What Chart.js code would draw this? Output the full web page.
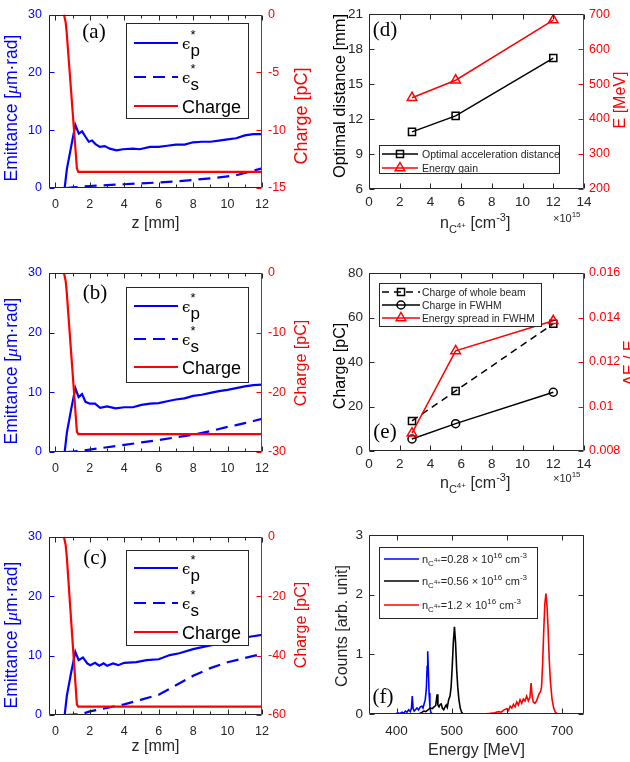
<!DOCTYPE html>
<html>
<head>
<meta charset="utf-8">
<title>Emittance, charge and spectra</title>
<script src="https://cdn.jsdelivr.net/npm/chart.js@4.4.1/dist/chart.umd.min.js"></script>
<style>
  html, body { margin: 0; padding: 0; background: #fff; }
  #fig { position: relative; width: 630px; height: 762px; overflow: hidden; }
  #fig canvas { position: absolute; }
</style>
</head>
<body>
<div id="fig">
  <canvas id="pa" width="315" height="250" style="left:0;top:0;width:315px;height:250px"></canvas>
  <canvas id="pb" width="315" height="250" style="left:0;top:250px;width:315px;height:250px"></canvas>
  <canvas id="pc" width="315" height="262" style="left:0;top:500px;width:315px;height:262px"></canvas>
  <canvas id="pd" width="315" height="250" style="left:315px;top:0;width:315px;height:250px"></canvas>
  <canvas id="pe" width="315" height="250" style="left:315px;top:250px;width:315px;height:250px"></canvas>
  <canvas id="pf" width="315" height="262" style="left:315px;top:500px;width:315px;height:262px"></canvas>
</div>
<script>
const FONT = '"Liberation Sans", Arial, Helvetica, sans-serif';
const SERIF = '"Liberation Serif", "Times New Roman", serif';
const GREEK = '"DejaVu Serif", serif';
const GRAY = '#262626', BLUE = '#0000ff', RED = '#ff0000';

// ---------- (a)-(c): emittance [um rad] and charge [pC] vs z [mm] ----------
const zTicks = [0, 2, 4, 6, 8, 10, 12];
const emitTicks = [0, 10, 20, 30];

const zEpA = [0.54, 0.67, 0.9, 1.16, 1.36, 1.55, 1.74, 1.94, 2.13, 2.33, 2.58, 2.87, 3.16, 3.55, 3.93, 4.5, 4.9, 5.5, 6.0, 6.5, 7.0, 7.5, 8.0, 8.5, 9.0, 9.5, 10.0, 10.5, 11.0, 11.5, 12.0];
const epA  = [0, 3.3, 6.9, 10.9, 9.4, 9.8, 8.9, 8.0, 8.2, 7.6, 7.1, 7.25, 6.8, 6.5, 6.7, 6.8, 6.7, 7.1, 7.1, 7.3, 7.5, 7.5, 7.9, 8.0, 8.0, 8.2, 8.4, 8.6, 9.1, 9.3, 9.3];
const zEpB = [0.54, 0.67, 0.9, 1.16, 1.35, 1.55, 1.75, 2.0, 2.3, 2.6, 3.0, 3.5, 4.0, 4.5, 5.0, 5.5, 6.0, 6.5, 7.0, 7.5, 8.0, 8.5, 9.0, 9.5, 10.0, 10.5, 11.0, 11.5, 12.0];
const epB  = [0, 3.3, 6.9, 10.7, 9.2, 9.7, 8.4, 8.1, 8.1, 7.4, 7.65, 7.3, 7.5, 7.5, 7.9, 8.1, 8.2, 8.5, 8.8, 9.0, 9.4, 9.6, 9.9, 10.2, 10.4, 10.7, 11.0, 11.2, 11.3];
const zEpC = [0.54, 0.67, 0.9, 1.16, 1.35, 1.6, 1.85, 2.03, 2.3, 2.55, 2.8, 3.0, 3.35, 3.65, 4.0, 4.7, 5.3, 6.0, 6.65, 7.2, 8.0, 8.8, 9.55, 10.3, 11.1, 12.0];
const epC  = [0, 3.3, 6.9, 10.65, 9.25, 9.7, 8.7, 8.4, 8.8, 8.3, 8.7, 8.3, 8.7, 8.4, 8.8, 8.9, 9.25, 9.4, 10.1, 10.4, 11.1, 11.6, 12.05, 12.6, 13.1, 13.5];

const zEsAB = [0.6, 1, 2, 3, 4, 5, 6, 7, 8, 9, 10, 10.5, 11, 11.5, 12];
const esA   = [0, 0.1, 0.35, 0.5, 0.65, 0.8, 0.95, 1.15, 1.4, 1.65, 2.0, 2.2, 2.6, 3.0, 3.4];
const esB   = [0, 0.05, 0.4, 0.8, 1.2, 1.6, 2.0, 2.45, 2.9, 3.5, 4.2, 4.5, 4.85, 5.2, 5.55];
const zEsC  = [0.6, 1, 1.5, 2, 3, 4, 5, 6, 7, 8, 9, 10, 11, 12];
const esC   = [0, 0.05, 0.15, 0.6, 1.2, 1.8, 2.6, 3.4, 5.0, 6.6, 7.9, 8.9, 9.6, 10.3];

const zQ = [0.5, 0.6, 0.66, 1.25, 1.33, 12];
const qA = [0, -0.7, -1.6, -13.3, -13.6, -13.6];
const qB = [0, -1.4, -3.2, -26.6, -27.0, -27.0];
const qC = [0, -2.8, -6.4, -56.5, -57.2, -57.2];
const qTicksA = [-15, -10, -5, 0];
const qTicksB = [-30, -20, -10, 0];
const qTicksC = [-60, -40, -20, 0];

// ---------- (d),(e): vs C4+ density (x 10^15 cm^-3) ----------
const dens = [2.8, 5.64, 12];
const optDist = [10.9, 12.27, 17.23];     // mm
const eGain = [461, 511, 683];            // MeV
const qWhole = [13.5, 27.0, 57.2];        // pC
const qFwhm = [5.4, 12.3, 26.4];          // pC
const eSpread = [0.0088, 0.0125, 0.01385];
const densTicks = [0, 2, 4, 6, 8, 10, 12, 14];
const distTicks = [6, 9, 12, 15, 18, 21];
const eTicks = [200, 300, 400, 500, 600, 700];
const chargeTicks = [0, 20, 40, 60, 80];
const spreadTicks = [0.008, 0.01, 0.012, 0.014, 0.016];

// ---------- (f): energy spectra ----------
const eBlue = [358, 398, 402, 406, 410, 413, 416, 419, 422, 425, 427, 428.5, 430, 432, 435, 437, 440, 443, 446, 448, 450, 452, 454, 455.5, 456.5, 457.5, 459, 460.5, 462, 465, 712];
const cBlue = [0, 0, 0.02, 0.01, 0.03, 0.01, 0.05, 0.03, 0.07, 0.04, 0.1, 0.3, 0.09, 0.05, 0.08, 0.1, 0.07, 0.12, 0.13, 0.1, 0.17, 0.24, 0.42, 0.8, 1.05, 0.78, 0.35, 0.12, 0.03, 0, 0];
const eBlack = [358, 440, 445, 449, 453, 457, 461, 465, 468, 471, 473.5, 475, 477, 479, 481, 483, 485.5, 488, 490, 492, 494.5, 497, 499, 501, 503, 505, 507, 509, 511, 513, 515.5, 518, 521, 712];
const cBlack = [0, 0, 0.02, 0.05, 0.04, 0.07, 0.1, 0.09, 0.12, 0.14, 0.33, 0.15, 0.12, 0.16, 0.17, 0.1, 0.07, 0.12, 0.15, 0.11, 0.24, 0.3, 0.46, 0.8, 1.2, 1.46, 1.2, 0.75, 0.45, 0.25, 0.1, 0.03, 0, 0];
const eRed = [358, 560, 570, 578, 585, 590, 595, 600, 603, 606, 609, 612, 615, 618, 621, 624, 627, 630, 633, 636, 639, 642, 644, 646, 648, 651, 654, 657, 659, 661, 663, 665, 667, 669, 671, 673, 675, 677, 679, 682, 685, 688, 692, 712];
const cRed = [0, 0, 0.01, 0.02, 0.04, 0.03, 0.07, 0.09, 0.06, 0.13, 0.1, 0.16, 0.12, 0.2, 0.15, 0.24, 0.18, 0.25, 0.22, 0.3, 0.22, 0.28, 0.52, 0.3, 0.2, 0.18, 0.22, 0.3, 0.35, 0.37, 0.45, 0.85, 1.4, 1.85, 2.02, 1.8, 1.4, 0.9, 0.55, 0.25, 0.1, 0.03, 0, 0];
const energyTicks = [400, 500, 600, 700];
const countTicks = [0, 1, 2, 3];

// ---------- helpers ----------
const pts = (xs, ys) => xs.map((x, i) => ({ x: x, y: ys[i] }));
const f = (size, fam, style) => (style ? style + ' ' : '') + size + 'px ' + (fam || FONT);

function axis(pos, min, max, ticks, color, size, pad, fs, extra) {
  return Object.assign({
    type: 'linear', position: pos, min: min, max: max,
    afterBuildTicks: s => { s.ticks = ticks.map(v => ({ value: v })); },
    afterFit: s => { if (pos === 'bottom') s.height = size; else s.width = size; },
    grid: { display: false, drawTicks: false },
    border: { display: false },
    ticks: { color: color, font: { family: FONT, size: fs }, padding: pad, maxRotation: 0, autoSkip: false }
  }, extra || {});
}

// text made of pieces: [text, font, dy, noAdvance]
function rich(ctx, x, y, parts, color, align, rot, base) {
  ctx.save();
  ctx.translate(x, y);
  if (rot) ctx.rotate(-Math.PI / 2);
  ctx.fillStyle = color;
  ctx.textAlign = 'left';
  ctx.textBaseline = base || 'alphabetic';
  let w = 0;
  parts.forEach(p => { ctx.font = p[1]; if (!p[3]) w += ctx.measureText(p[0]).width; });
  let cx = align === 'center' ? -w / 2 : 0;
  parts.forEach(p => { ctx.font = p[1]; ctx.fillText(p[0], cx, p[2] || 0); if (!p[3]) cx += ctx.measureText(p[0]).width; });
  ctx.restore();
}

function marker(ctx, style, r, x, y) {
  ctx.beginPath();
  if (style === 'rect') { const s = r * Math.SQRT1_2; ctx.rect(x - s, y - s, 2 * s, 2 * s); }
  else if (style === 'circle') ctx.arc(x, y, r, 0, 2 * Math.PI);
  else { ctx.moveTo(x, y - r); ctx.lineTo(x + r * 0.866, y + r * 0.5); ctx.lineTo(x - r * 0.866, y + r * 0.5); ctx.closePath(); }
  ctx.stroke();
}

const DECO = {};
const deco = {
  id: 'deco',
  afterDraw(chart) {
    const o = DECO[chart.canvas.id];
    const ctx = chart.ctx, a = chart.chartArea;
    const L = Math.round(a.left) + 0.5, R = Math.round(a.right) - 0.5;
    const T = Math.round(a.top) + 0.5, B = Math.round(a.bottom) - 0.5;
    const seg = (color, list) => {
      ctx.strokeStyle = color; ctx.beginPath();
      list.forEach(s => { ctx.moveTo(s[0], s[1]); ctx.lineTo(s[2], s[3]); });
      ctx.stroke();
    };
    ctx.save();
    ctx.lineWidth = 1;
    // inward ticks
    const xs = chart.scales.x, xv = xs.ticks.map(t => t.value), xl = [];
    xv.forEach(v => { const p = Math.round(xs.getPixelForValue(v)) + 0.5; xl.push([p, B, p, B - 5], [p, T, p, T + 5]); });
    if (o.xMinor) for (let i = 0; i + 1 < xv.length; i++) {
      const p = Math.round(xs.getPixelForValue((xv[i] + xv[i + 1]) / 2)) + 0.5;
      xl.push([p, B, p, B - 3], [p, T, p, T + 3]);
    }
    seg(GRAY, xl);
    const ys = chart.scales.y, y2 = chart.scales.y2, yl = [], y2l = [];
    ys.ticks.forEach(t => {
      const p = Math.round(ys.getPixelForValue(t.value)) + 0.5;
      yl.push([L, p, L + 5, p]);
      if (!y2) yl.push([R, p, R - 5, p]);
    });
    seg(o.lc, yl);
    if (y2) {
      y2.ticks.forEach(t => { const p = Math.round(y2.getPixelForValue(t.value)) + 0.5; y2l.push([R, p, R - 5, p]); });
      seg(o.rc, y2l);
    }
    // frame
    seg(GRAY, [[L, T, R, T], [L, B, R, B]]);
    seg(o.lc, [[L, T, L, B]]);
    seg(y2 ? o.rc : GRAY, [[R, T, R, B]]);
    // legend
    if (o.legend) {
      const g = o.legend, bx = g.box;
      ctx.fillStyle = '#fff';
      ctx.fillRect(bx[0], bx[1], bx[2], bx[3]);
      ctx.strokeStyle = GRAY; ctx.lineWidth = 1;
      ctx.strokeRect(bx[0] + 0.5, bx[1] + 0.5, bx[2], bx[3]);
      g.items.forEach(it => {
        ctx.strokeStyle = it.color; ctx.lineWidth = it.lw;
        ctx.setLineDash(it.dash || []);
        ctx.beginPath(); ctx.moveTo(g.x0, it.y); ctx.lineTo(g.x1, it.y); ctx.stroke();
        ctx.setLineDash([]);
        if (it.marker) { ctx.lineWidth = 1.5; marker(ctx, it.marker, it.r, (g.x0 + g.x1) / 2, it.y); }
        rich(ctx, g.tx, it.y, it.parts, g.tc || GRAY, 'left', false);
      });
    }
    // panel tag
    ctx.fillStyle = '#000';
    ctx.font = f(21, SERIF);
    ctx.textAlign = 'center'; ctx.textBaseline = 'middle';
    ctx.fillText(o.tag[0], o.tag[1], o.tag[2]);
    (o.texts || []).forEach(t => rich(ctx, t.x, t.y, t.parts, t.color, t.align, t.rot, t.base));
    ctx.restore();
  }
};

const common = {
  animation: false, responsive: false, events: [],
  elements: { point: { radius: 0 }, line: { tension: 0 } },
  plugins: { legend: { display: false }, tooltip: { enabled: false } }
};

// ---------- emittance panels ----------
function emitLegend(top, l1, l2, l3) {
  const eps = sub => [['ϵ', f(15, GREEK), 5.5], ['*', f(13), -4, true], [sub, f(17), 13.4]];
  return {
    box: [126, top, 122, 95], x0: 134, x1: 178, tx: 182, tc: '#000',
    items: [
      { y: l1, color: BLUE, lw: 2.2, parts: eps('p') },
      { y: l2, color: BLUE, lw: 2.2, dash: [12, 7], parts: eps('s') },
      { y: l3, color: RED, lw: 2.2, parts: [['Charge', f(18), 6.5]] }
    ]
  };
}
const emitTitle = (x, y) => ({ x: x, y: y, rot: true, align: 'center', base: 'middle', color: BLUE,
  parts: [['Emittance [', f(17.5)], ['μ', f(17.5, SERIF, 'italic')], ['m·rad]', f(17.5)]] });
const chargeTitle = (x, y, size) => ({ x: x, y: y, rot: true, align: 'center', base: 'middle', color: RED,
  parts: [['Charge [pC]', f(size)]] });

function emitPanel(id, p) {
  DECO[id] = {
    lc: BLUE, rc: RED, xMinor: true, tag: p.tag, legend: p.legend,
    texts: [emitTitle(12, p.lt), chargeTitle(302, p.rt, p.rs)]
  };
  return new Chart(document.getElementById(id), {
    type: 'line',
    data: { datasets: [
      { data: pts(zQ, p.q), borderColor: RED, borderWidth: 2.2, yAxisID: 'y2' },
      { data: pts(p.zp, p.ep), borderColor: BLUE, borderWidth: 2.2, yAxisID: 'y' },
      { data: pts(p.zs, p.es), borderColor: BLUE, borderWidth: 2.2, borderDash: [12, 7], yAxisID: 'y' }
    ]},
    options: Object.assign({}, common, {
      layout: { padding: { top: p.top, bottom: p.padB, left: 0, right: 0 } },
      scales: {
        x: axis('bottom', -0.37, 12, zTicks, GRAY, p.xh, 9, 12.5, {
          title: { display: p.xTitle, text: 'z [mm]', color: GRAY, font: { family: FONT, size: 16 }, padding: { top: 0, bottom: 2 } }
        }),
        y: axis('left', 0, 30, emitTicks, BLUE, 49, 7, 12.5),
        y2: axis('right', p.qmin, 0, p.qticks, RED, 53, 6, 12.5)
      }
    }),
    plugins: [deco]
  });
}

emitPanel('pa', { zp: zEpA, ep: epA, zs: zEsAB, es: esA, q: qA, qmin: -15, qticks: qTicksA,
  top: 10, padB: 15, xh: 47, xTitle: true, tag: ['(a)', 94, 32], lt: 108, rt: 116, rs: 18,
  legend: emitLegend(23, 43, 77, 106) });
emitPanel('pb', { zp: zEpB, ep: epB, zs: zEsAB, es: esB, q: qB, qmin: -30, qticks: qTicksB,
  top: 23, padB: 0, xh: 48, xTitle: false, tag: ['(b)', 95, 43], lt: 121, rt: 113, rs: 16,
  legend: emitLegend(37, 56, 89, 117) });
emitPanel('pc', { zp: zEpC, ep: epC, zs: zEsC, es: esC, q: qC, qmin: -60, qticks: qTicksC,
  top: 37, padB: 4, xh: 43, xTitle: true, tag: ['(c)', 95, 58], lt: 135, rt: 125, rs: 16,
  legend: emitLegend(50, 68, 103, 132) });

// ---------- right column ----------
const densTitle = y => ({ x: 125, y: y, color: GRAY, align: 'left',
  parts: [['n', f(16)], ['C', f(11), 5], ['4+', f(8), 0], [' [cm', f(16)], ['-3', f(11), -7], [']', f(16)]] });
const expo = y => ({ x: 238, y: y, color: GRAY, align: 'left', parts: [['×10', f(11)], ['15', f(8), -5]] });
const vt = (x, y, text, color, size) => ({ x: x, y: y, rot: true, align: 'center', base: 'middle', color: color, parts: [[text, f(size || 16)]] });

DECO.pd = {
  lc: GRAY, rc: RED, tag: ['(d)', 70, 30],
  legend: { box: [64, 145, 180, 28], x0: 67, x1: 103, tx: 107, items: [
    { y: 154, color: '#000', lw: 1.5, marker: 'rect', r: 5, parts: [['Optimal acceleration distance', f(10.5), 3.8]] },
    { y: 168, color: RED, lw: 1.5, marker: 'tri', r: 5.5, parts: [['Energy gain', f(10.5), 3.8]] }
  ]},
  texts: [vt(25, 96, 'Optimal distance [mm]', '#000', 16.5), vt(306, 100, 'E [MeV]', RED), densTitle(228), expo(222)]
};
new Chart(document.getElementById('pd'), {
  type: 'line',
  data: { datasets: [
    { data: pts(dens, optDist), borderColor: '#000', borderWidth: 1.5, yAxisID: 'y',
      pointRadius: 5, pointStyle: 'rect', pointBorderWidth: 1.5, pointBackgroundColor: 'rgba(0,0,0,0)' },
    { data: pts(dens, eGain), borderColor: RED, borderWidth: 1.5, yAxisID: 'y2',
      pointRadius: 5.5, pointStyle: 'triangle', pointBorderWidth: 1.5, pointBackgroundColor: 'rgba(0,0,0,0)' }
  ]},
  options: Object.assign({}, common, {
    layout: { padding: { top: 10, bottom: 0, left: 0, right: 0 } },
    scales: {
      x: axis('bottom', 0, 14, densTicks, GRAY, 61, 5, 13.5),
      y: axis('left', 6, 21, distTicks, GRAY, 54, 6, 13.5),
      y2: axis('right', 200, 700, eTicks, RED, 46, 5, 12.5)
    }
  }),
  plugins: [deco]
});

DECO.pe = {
  lc: GRAY, rc: RED, tag: ['(e)', 70, 182],
  legend: { box: [64, 33, 162, 43], x0: 67, x1: 105, tx: 107, items: [
    { y: 42, color: '#000', lw: 1.5, dash: [7, 5], marker: 'rect', r: 5, parts: [['Charge of whole beam', f(10.3), 3.6]] },
    { y: 55, color: '#000', lw: 1.5, marker: 'circle', r: 4, parts: [['Charge in FWHM', f(10.3), 3.6]] },
    { y: 68, color: RED, lw: 1.5, marker: 'tri', r: 5.5, parts: [['Energy spread in FWHM', f(10.3), 3.6]] }
  ]},
  texts: [vt(26, 116, 'Charge [pC]', '#000'), vt(316, 113, 'ΔE / E', RED), densTitle(238), expo(232)]
};
new Chart(document.getElementById('pe'), {
  type: 'line',
  data: { datasets: [
    { data: pts(dens, eSpread), borderColor: RED, borderWidth: 1.5, yAxisID: 'y2',
      pointRadius: 5.5, pointStyle: 'triangle', pointBorderWidth: 1.5, pointBackgroundColor: 'rgba(0,0,0,0)' },
    { data: pts(dens, qWhole), borderColor: '#000', borderWidth: 1.5, borderDash: [7, 5], yAxisID: 'y',
      pointRadius: 5, pointStyle: 'rect', pointBorderWidth: 1.5, pointBackgroundColor: 'rgba(0,0,0,0)' },
    { data: pts(dens, qFwhm), borderColor: '#000', borderWidth: 1.5, yAxisID: 'y',
      pointRadius: 4, pointStyle: 'circle', pointBorderWidth: 1.5, pointBackgroundColor: 'rgba(0,0,0,0)' }
  ]},
  options: Object.assign({}, common, {
    layout: { padding: { top: 23, bottom: 0, left: 0, right: 0 } },
    scales: {
      x: axis('bottom', 0, 14, densTicks, GRAY, 49, 5, 13.5),
      y: axis('left', 0, 80, chargeTicks, GRAY, 54, 6, 13.5),
      y2: axis('right', 0.008, 0.016, spreadTicks, RED, 46, 5, 12.5)
    }
  }),
  plugins: [deco]
});
Chart.getChart('pe').options.scales.y2.ticks.callback = v => String(+v.toFixed(4));
Chart.getChart('pe').update();

const nLeg = (val) => [['n', f(11), 4], ['C', f(8), 7], ['4+', f(6), 3], ['=' + val + ' × 10', f(11), 4], ['16', f(8), -1], [' cm', f(11), 4], ['-3', f(8), -1]];
DECO.pf = {
  lc: GRAY, tag: ['(f)', 68, 197],
  legend: { box: [64, 47, 158, 71], x0: 69, x1: 104, tx: 107, items: [
    { y: 59, color: BLUE, lw: 1.5, parts: nLeg('0.28') },
    { y: 81, color: '#000', lw: 1.5, parts: nLeg('0.56') },
    { y: 105, color: RED, lw: 1.5, parts: nLeg('1.2') }
  ]},
  texts: [vt(28, 126, 'Counts [arb. unit]', GRAY)]
};
new Chart(document.getElementById('pf'), {
  type: 'line',
  data: { datasets: [
    { data: pts(eRed, cRed), borderColor: RED, borderWidth: 1.6, yAxisID: 'y' },
    { data: pts(eBlack, cBlack), borderColor: '#000', borderWidth: 1.6, yAxisID: 'y' },
    { data: pts(eBlue, cBlue), borderColor: BLUE, borderWidth: 1.6, yAxisID: 'y' }
  ]},
  options: Object.assign({}, common, {
    layout: { padding: { top: 35, bottom: 0, left: 0, right: 46 } },
    scales: {
      x: axis('bottom', 350, 740, energyTicks, GRAY, 48, 9, 13.5, {
        title: { display: true, text: 'Energy [MeV]', color: GRAY, font: { family: FONT, size: 16 }, padding: { top: 0, bottom: 2 } }
      }),
      y: axis('left', 0, 3, countTicks, GRAY, 54, 6, 13.5)
    }
  }),
  plugins: [deco]
});
</script>
</body>
</html>
